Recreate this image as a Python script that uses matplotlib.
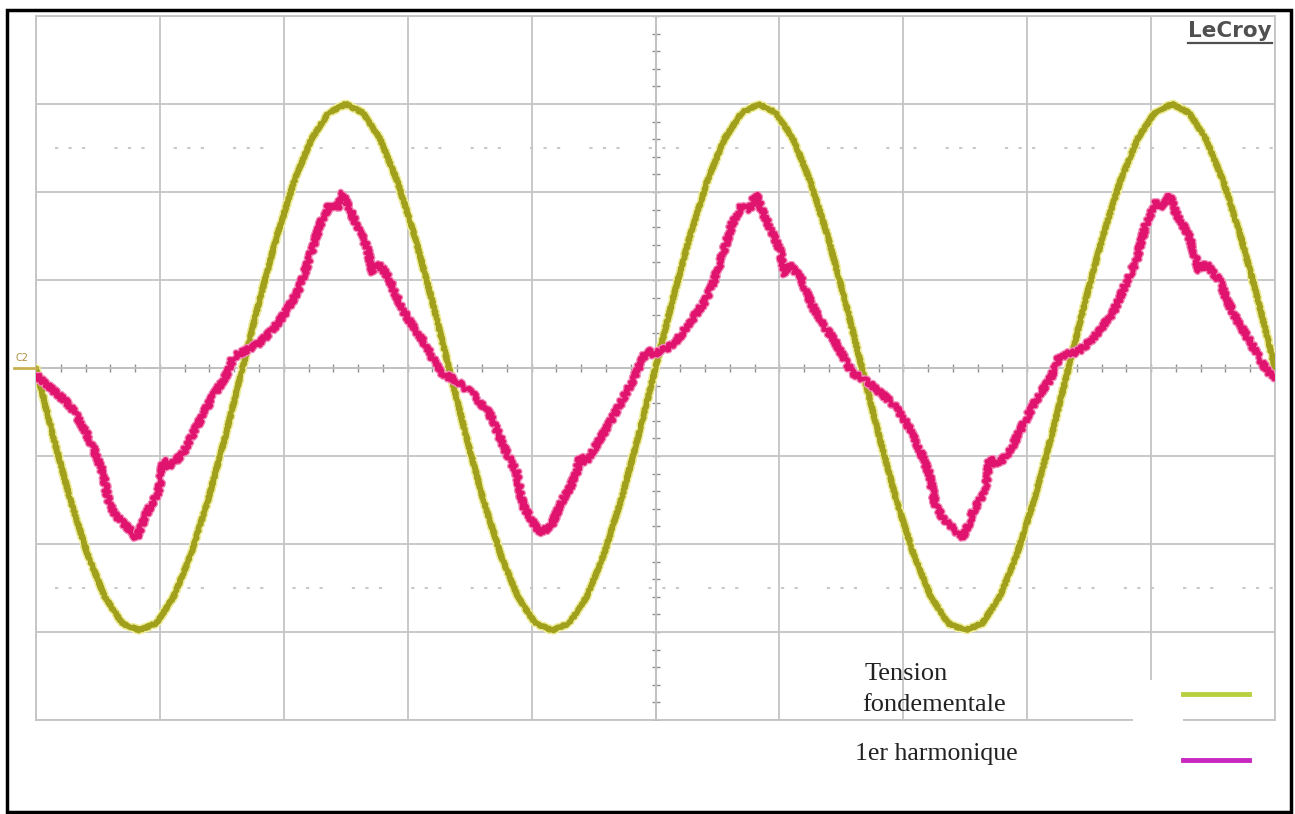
import numpy as np
import matplotlib
matplotlib.use("Agg")
import matplotlib.pyplot as plt
import matplotlib.patheffects as pe
from matplotlib.patches import Rectangle
from matplotlib.lines import Line2D

# trace values in screen divisions (10 x 8 graticule)
fund_t = np.linspace(0, 10, 73)
fund_v = [0.0, -0.78, -1.5, -2.12, -2.6, -2.9, -2.98, -2.9, -2.6, -2.12, -1.5, -0.78,
          0.0, 0.78, 1.5, 2.12, 2.6, 2.9, 3.0, 2.9, 2.6, 2.12, 1.5, 0.78,
          0.0, -0.78, -1.5, -2.12, -2.6, -2.9, -2.98, -2.9, -2.6, -2.12, -1.5, -0.78,
          0.0, 0.78, 1.5, 2.12, 2.6, 2.9, 3.0, 2.9, 2.6, 2.12, 1.5, 0.78,
          0.0, -0.78, -1.5, -2.12, -2.6, -2.9, -2.98, -2.9, -2.6, -2.12, -1.5, -0.78,
          0.0, 0.78, 1.5, 2.12, 2.6, 2.9, 3.0, 2.9, 2.6, 2.12, 1.5, 0.78,
          0.0]

harm_t = [0.00, 0.08, 0.16, 0.24, 0.32, 0.40, 0.46, 0.54, 0.59, 0.65, 0.70, 0.76, 0.81,
          0.85, 0.89, 0.95, 0.99, 1.03, 1.07, 1.13, 1.19, 1.27, 1.35, 1.43, 1.51, 1.55,
          1.59, 1.65, 1.73, 1.81, 1.90, 1.99, 2.06, 2.13, 2.21, 2.29, 2.37, 2.43, 2.48,
          2.54, 2.59, 2.67, 2.72, 2.75, 2.80, 2.85, 2.90, 2.96, 3.04, 3.12, 3.19, 3.26,
          3.33, 3.39, 3.46, 3.52, 3.59, 3.66, 3.73, 3.80, 3.88, 3.93, 3.99, 4.06, 4.15,
          4.20, 4.25, 4.31, 4.36, 4.39, 4.44, 4.52, 4.60, 4.68, 4.76, 4.82, 4.87, 4.93,
          4.98, 5.03, 5.10, 5.16, 5.24, 5.32, 5.40, 5.46, 5.54, 5.62, 5.70, 5.76, 5.81,
          5.87, 5.92, 6.00, 6.05, 6.08, 6.13, 6.18, 6.23, 6.29, 6.37, 6.45, 6.52, 6.59,
          6.67, 6.75, 6.83, 6.91, 6.99, 7.07, 7.13, 7.21, 7.26, 7.32, 7.37, 7.43, 7.48,
          7.52, 7.56, 7.62, 7.66, 7.70, 7.74, 7.80, 7.86, 7.94, 8.02, 8.10, 8.18, 8.22,
          8.26, 8.33, 8.40, 8.46, 8.52, 8.60, 8.69, 8.74, 8.80, 8.88, 8.96, 9.04, 9.10,
          9.15, 9.20, 9.26, 9.31, 9.39, 9.44, 9.50, 9.55, 9.60, 9.65, 9.72, 9.79, 9.87,
          9.95, 10.00]
harm_v = [-0.08, -0.18, -0.28, -0.38, -0.52, -0.72, -0.90, -1.19, -1.55, -1.68, -1.76, -1.84, -1.93,
          -1.80, -1.66, -1.50, -1.40, -1.04, -1.12, -1.05, -0.96, -0.74, -0.52, -0.32, -0.14, -0.05,
          0.12, 0.17, 0.22, 0.29, 0.42, 0.58, 0.74, 0.92, 1.26, 1.62, 1.86, 1.80, 1.99,
          1.78, 1.62, 1.38, 1.08, 1.19, 1.12, 1.02, 0.84, 0.66, 0.48, 0.32, 0.14, -0.04,
          -0.10, -0.14, -0.22, -0.29, -0.40, -0.52, -0.74, -0.97, -1.19, -1.56, -1.70, -1.86, -1.82,
          -1.66, -1.50, -1.36, -1.20, -1.01, -1.06, -0.88, -0.70, -0.50, -0.29, -0.14, 0.02, 0.20,
          0.16, 0.18, 0.23, 0.29, 0.44, 0.60, 0.76, 0.94, 1.28, 1.64, 1.86, 1.80, 1.98,
          1.76, 1.60, 1.36, 1.06, 1.18, 1.10, 1.00, 0.82, 0.64, 0.46, 0.30, 0.12, -0.06,
          -0.12, -0.20, -0.30, -0.40, -0.54, -0.74, -0.92, -1.20, -1.56, -1.70, -1.78, -1.86, -1.94,
          -1.80, -1.64, -1.50, -1.38, -1.02, -1.10, -1.04, -0.95, -0.72, -0.50, -0.30, -0.14, -0.02,
          0.13, 0.16, 0.18, 0.24, 0.32, 0.46, 0.62, 0.78, 0.97, 1.22, 1.64, 1.88, 1.84,
          1.96, 1.76, 1.62, 1.48, 1.10, 1.19, 1.08, 1.00, 0.82, 0.66, 0.48, 0.32, 0.12,
          -0.06, -0.10]

W, H = 1295, 814
fig = plt.figure(figsize=(W / 100, H / 100), dpi=100)
fig.patch.set_facecolor('white')

# graticule area in pixels: x 36..1275, y 16..720
ax = fig.add_axes([36 / W, (H - 720) / H, 1239 / W, 704 / H])
ax.set_xlim(0, 10)
ax.set_ylim(-4, 4)
ax.set_xticks(range(11))
ax.set_yticks(range(-4, 5))
ax.tick_params(length=0, labelbottom=False, labelleft=False)
ax.grid(True, color='#c4c4c4', linewidth=1.3)
for s in ax.spines.values():
    s.set_color('#c4c4c4')
    s.set_linewidth(1.3)

# centre axes with minor ticks
ax.axhline(0, color='#a0a0a0', linewidth=1.3, zorder=1)
ax.axvline(5, color='#a0a0a0', linewidth=1.3, zorder=1)
tick_x = np.arange(0, 10.01, 0.2)
tick_y = np.arange(-4, 4.01, 0.2)
ax.plot(tick_x, np.zeros_like(tick_x), ls='none', marker='|', ms=6, mew=1,
        color='#909090', zorder=1)
ax.plot(np.full_like(tick_y, 5), tick_y, ls='none', marker='_', ms=6, mew=1,
        color='#909090', zorder=1)

# dotted reference rows
for yy in (2.5, -2.5):
    ax.plot([0.15, 10], [yy, yy], color='#c8c8c8', linewidth=1.5,
            linestyle=(0, (1.5, 5, 1.5, 5, 1.5, 14)), zorder=1)

# traces
yl, = ax.plot(fund_t, fund_v, color='#a0a01c', linewidth=3.4, zorder=3,
              solid_joinstyle='round',
              path_effects=[pe.Stroke(linewidth=5.5, foreground='#eeec9a'), pe.Normal()])
yl.set_sketch_params(scale=1.2, length=3, randomness=2)
ml, = ax.plot(harm_t, harm_v, color='#e0146e', linewidth=3.0, zorder=4,
              solid_joinstyle='round',
              path_effects=[pe.Stroke(linewidth=4.8, foreground='#f28cb8'), pe.Normal()])
ml.set_sketch_params(scale=2.8, length=3.5, randomness=3)

# LeCroy logo
fig.text(1272 / W, 1 - 31 / H, 'LeCroy', ha='right', va='center', fontsize=15.5,
         fontweight='bold', color='#505050', family='DejaVu Sans')
fig.add_artist(Line2D([1188 / W, 1272 / W], [1 - 43 / H, 1 - 43 / H],
                      color='#505050', linewidth=1.6))

# C2 marker
fig.text(15 / W, 1 - 358 / H, 'C2', ha='left', va='center', fontsize=7,
         color='#b09040', family='DejaVu Sans')
fig.add_artist(Line2D([14 / W, 36 / W], [1 - 368 / H, 1 - 368 / H],
                      color='#c8b050', linewidth=2))

# legend pasted over the graticule
fig.add_artist(Rectangle((1133 / W, 1 - 726 / H), 50 / W, 46 / H,
                         transform=fig.transFigure, facecolor='white',
                         edgecolor='none', zorder=5))
fig.text(865 / W, 1 - 674 / H, 'Tension', ha='left', va='center', fontsize=19,
         family='Liberation Serif', color='#222222', zorder=6)
fig.text(862 / W, 1 - 705 / H, 'fondementale', ha='left', va='center', fontsize=19,
         family='Liberation Serif', color='#222222', zorder=6)
fig.text(855 / W, 1 - 754 / H, '1er harmonique', ha='left', va='center', fontsize=18.5,
         family='Liberation Serif', color='#222222', zorder=6)
fig.add_artist(Line2D([1183 / W, 1249 / W], [1 - 694 / H, 1 - 694 / H],
                      color='#b8d040', linewidth=3.5, zorder=6))
fig.add_artist(Line2D([1183 / W, 1249 / W], [1 - 760 / H, 1 - 760 / H],
                      color='#c828c0', linewidth=3.5, zorder=6))

# black frame around the whole capture
fig.add_artist(Rectangle((7 / W, 1 - 812 / H), 1284 / W, 802 / H,
                         transform=fig.transFigure, facecolor='none',
                         edgecolor='black', linewidth=2.5, zorder=7))

fig.savefig('out.png', dpi=100)
